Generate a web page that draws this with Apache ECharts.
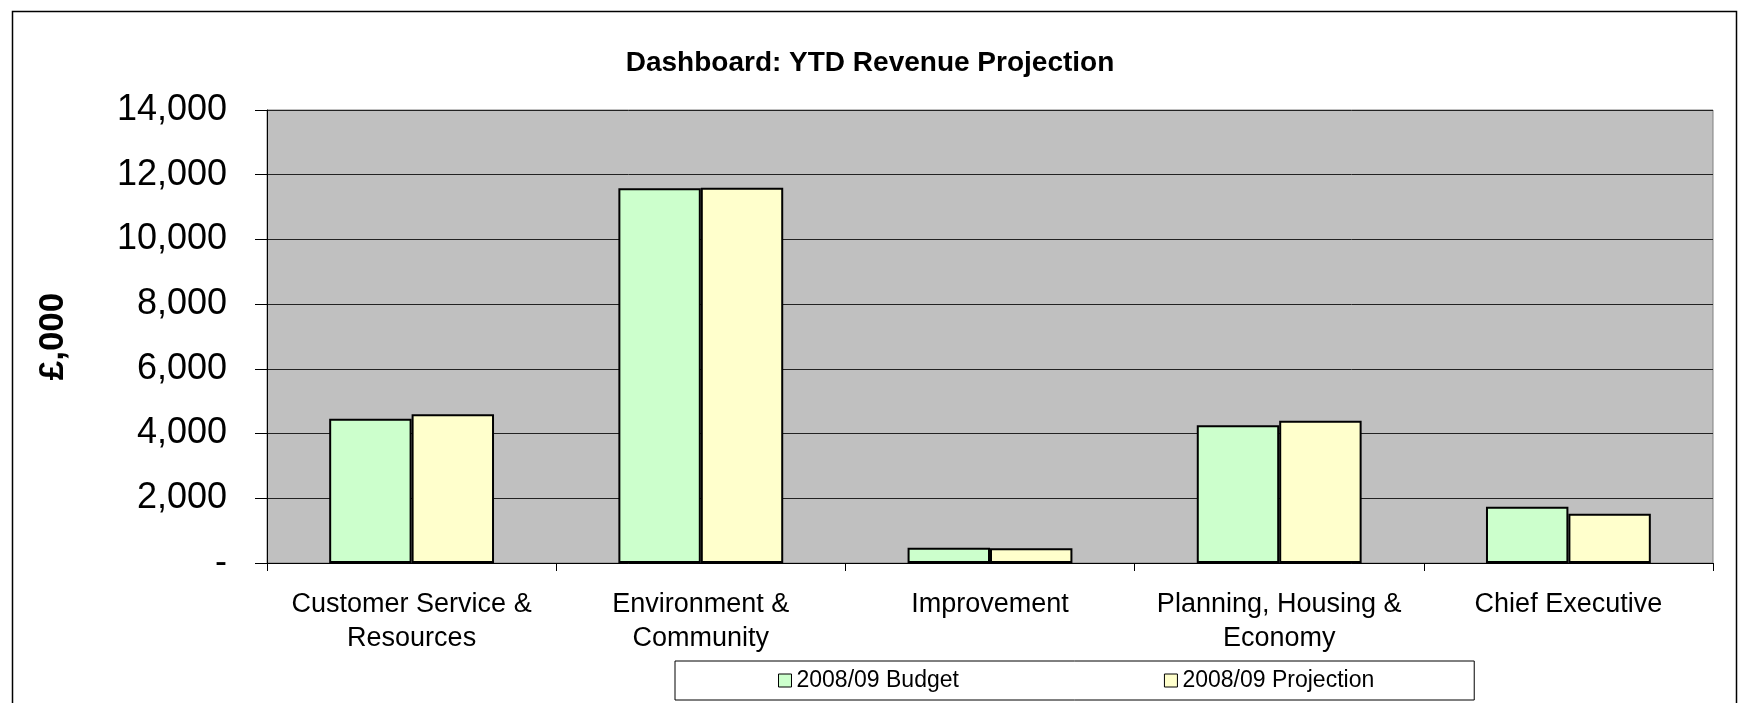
<!DOCTYPE html>
<html>
<head>
<meta charset="utf-8">
<script src="https://cdn.jsdelivr.net/npm/echarts@6/dist/echarts.min.js"></script>
<style>
    html, body { margin: 0; padding: 0; background: #fff; }
    #revenueChart { width: 1740px; height: 703px; }
</style>
</head>
<body>
<div id="revenueChart"></div>
<script>
var categories = ['Customer Service &\nResources', 'Environment &\nCommunity', 'Improvement', 'Planning, Housing &\nEconomy', 'Chief Executive'];
var budget = [4460, 11580, 475, 4260, 1740];
var projection = [4600, 11600, 455, 4400, 1520];
var seriesNames = ['2008/09 Budget', '2008/09 Projection'];

var revenueChart = function () {
    var chart = echarts.init(document.getElementById('revenueChart'));
    var font = 'Liberation Sans, Arial, sans-serif';
    var option = {
        animation: false,
        textStyle: { fontFamily: font, color: '#000' },
        title: {
            text: 'Dashboard: YTD Revenue Projection',
            left: 'center',
            top: 44,
            textStyle: {
                fontFamily: font,
                fontSize: 28,
                fontWeight: 'bold',
                color: '#000'
            }
        },
        // outer frame of the chart
        graphic: [{
            type: 'rect',
            shape: { x: 12.5, y: 11.5, width: 1724, height: 720 },
            style: { fill: 'none', stroke: '#000', lineWidth: 1.5 },
            silent: true
        }],
        grid: {
            show: true,
            left: 267,
            right: 27,
            top: 110,
            bottom: 140,
            backgroundColor: '#C0C0C0',
            borderColor: '#808080',
            borderWidth: 1,
            containLabel: false
        },
        legend: {
            data: seriesNames,
            left: 675,
            top: 661,
            padding: [8, 100, 8, 103],
            itemGap: 205,
            itemWidth: 13,
            itemHeight: 13,
            icon: 'rect',
            borderColor: '#000',
            borderWidth: 1,
            itemStyle: { borderColor: '#000', borderWidth: 1 },
            textStyle: { fontFamily: font, fontSize: 23, color: '#000' }
        },
        xAxis: [{
            type: 'category',
            data: categories,
            axisLine: { show: true, lineStyle: { color: '#000', width: 1 } },
            axisTick: { show: true, length: 8, lineStyle: { color: '#000' } },
            splitLine: { show: false },
            axisLabel: {
                interval: 0,
                margin: 25,
                fontFamily: font,
                fontSize: 27,
                lineHeight: 34,
                color: '#000'
            }
        }],
        yAxis: [{
            type: 'value',
            min: 0,
            max: 14000,
            interval: 2000,
            name: '£,000',
            nameLocation: 'middle',
            nameRotate: 90,
            nameGap: 196,
            nameTextStyle: {
                fontFamily: font,
                fontSize: 35,
                fontWeight: 'bold',
                color: '#000'
            },
            axisLine: { show: true, lineStyle: { color: '#000', width: 1 } },
            axisTick: { show: true, length: 12, lineStyle: { color: '#000' } },
            splitLine: { show: true, lineStyle: { color: '#222', width: 1 } },
            axisLabel: {
                margin: 40,
                fontFamily: font,
                fontSize: 36,
                color: '#000',
                formatter: function (v) {
                    return v === 0 ? '-' : v.toLocaleString('en-GB');
                }
            }
        }],
        series: [
            {
                name: seriesNames[0],
                type: 'bar',
                data: budget,
                barGap: '0%',
                barCategoryGap: '43%',
                itemStyle: { color: '#CCFFCC', borderColor: '#000', borderWidth: 2 }
            },
            {
                name: seriesNames[1],
                type: 'bar',
                data: projection,
                itemStyle: { color: '#FFFFCC', borderColor: '#000', borderWidth: 2 }
            }
        ]
    };
    chart.setOption(option);
};

revenueChart();
</script>
</body>
</html>
